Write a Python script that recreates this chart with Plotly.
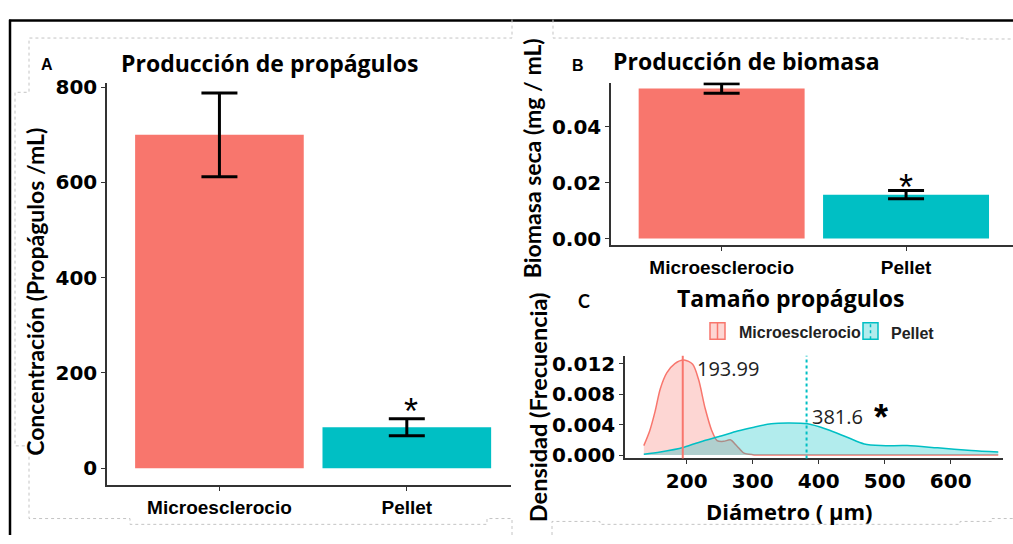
import plotly.graph_objects as go

W, H = 1013, 544

# ---- data -------------------------------------------------------------
categories = ["Microesclerocio", "Pellet"]
bar_colors = ["#F8766D", "#00BFC4"]

# A: propagule production (propagules / mL), mean and standard error
prop_mean = [700, 86]
prop_err = [88, 18]

# B: dry biomass (mg / mL), mean and standard error
bio_mean = [0.0537, 0.0157]
bio_err = [0.0017, 0.0015]

# C: propagule diameter density curves (µm, density)
micro_x = [135, 144, 152, 160, 170, 182, 196, 209, 218, 228, 238, 246, 256,
           266, 276, 286, 300, 320, 400, 500, 600, 672]
micro_y = [0.00124, 0.0032, 0.0057, 0.0087, 0.0108, 0.0120, 0.01247, 0.0119,
           0.0099, 0.0061, 0.0032, 0.0019, 0.0018, 0.0020, 0.0012, 0.0003,
           0.00005, 0.0, 0.0, 0.0, 0.0, 0.0]
pellet_x = [135, 160, 196, 226, 252, 277, 302, 328, 353, 383, 413, 444, 469,
            494, 534, 580, 631, 672]
pellet_y = [0.0001, 0.0004, 0.00104, 0.00188, 0.0025, 0.00315, 0.00366,
            0.0041, 0.0042, 0.0041, 0.00336, 0.0023, 0.00146, 0.00124,
            0.00124, 0.00095, 0.00061, 0.0004]
mean_diam = [193.99, 381.6]

# ---- helpers (pixels -> paper fractions) --------------------------------
def px(x):
    return x / W


def py(y):
    return 1 - y / H


AX = "#333333"
TICK_FONT = dict(family="DejaVu Sans", size=20, color="black", weight="bold")
CAT_FONT = dict(family="Liberation Sans", size=19, color="black", weight="bold")
TITLE_FONT = dict(family="Open Sans", size=23, color="black", weight="bold")

fig = go.Figure()

# A bars
fig.add_trace(go.Bar(
    x=categories, y=prop_mean, width=0.9, marker=dict(color=bar_colors, line=dict(width=0)),
    error_y=dict(type="data", array=prop_err, color="black", thickness=3, width=18),
    xaxis="x", yaxis="y", showlegend=False))

# B bars
fig.add_trace(go.Bar(
    x=categories, y=bio_mean, width=0.9, marker=dict(color=bar_colors, line=dict(width=0)),
    error_y=dict(type="data", array=bio_err, color="black", thickness=3, width=18),
    xaxis="x2", yaxis="y2", showlegend=False))

# C densities
fig.add_trace(go.Scatter(
    x=micro_x, y=micro_y, mode="lines", line=dict(color=bar_colors[0], width=1.5, shape="spline", smoothing=0.8),
    fill="tozeroy", fillcolor="rgba(248,118,109,0.3)", xaxis="x3", yaxis="y3", showlegend=False))
fig.add_trace(go.Scatter(
    x=pellet_x, y=pellet_y, mode="lines", line=dict(color=bar_colors[1], width=1.5, shape="spline", smoothing=0.8),
    fill="tozeroy", fillcolor="rgba(0,191,196,0.3)", xaxis="x3", yaxis="y3", showlegend=False))

shapes = []
# mean diameter reference lines
shapes.append(dict(type="line", xref="x3", yref="y3 domain", x0=mean_diam[0], x1=mean_diam[0],
                   y0=0, y1=1, line=dict(color=bar_colors[0], width=2)))
shapes.append(dict(type="line", xref="x3", yref="y3 domain", x0=mean_diam[1], x1=mean_diam[1],
                   y0=0, y1=1, line=dict(color=bar_colors[1], width=2, dash="dot")))

# legend keys for C
for x0, col, fillc, dash in [(710, bar_colors[0], "rgba(248,118,109,0.3)", "solid"),
                             (863, bar_colors[1], "rgba(0,191,196,0.3)", "dot")]:
    shapes.append(dict(type="rect", xref="paper", yref="paper", x0=px(x0), x1=px(x0 + 15),
                       y0=py(342), y1=py(325), fillcolor=fillc, line=dict(color=col, width=1.5)))
    shapes.append(dict(type="line", xref="paper", yref="paper", x0=px(x0 + 7.5), x1=px(x0 + 7.5),
                       y0=py(342), y1=py(325), line=dict(color=col, width=1.5, dash=dash)))

# outer black frame
shapes.append(dict(type="line", xref="paper", yref="paper", x0=px(9), x1=1, y0=py(13), y1=py(13),
                   line=dict(color="black", width=2.5)))
shapes.append(dict(type="line", xref="paper", yref="paper", x0=px(10), x1=px(10), y0=py(12), y1=0,
                   line=dict(color="black", width=2.5)))

# faint panel outlines
GRAY = "#c4c4c4"
outline = [
    [(512, 12), (512, 31), (29, 31), (29, 87), (15, 87), (15, 452), (29, 452), (29, 527),
     (130, 527), (130, 533), (487, 533), (487, 527), (512, 527), (512, 544)],
    [(553, 12), (553, 31), (966, 31), (966, 32), (1013, 32)],
    [(552, 544), (552, 530), (600, 530), (600, 533), (960, 533), (960, 530), (992, 530),
     (992, 527), (1013, 527)],
]
for pts in outline:
    path = "M " + " L ".join(f"{px(a):.5f},{py(b):.5f}" for a, b in pts)
    shapes.append(dict(type="path", xref="paper", yref="paper", path=path,
                       line=dict(color=GRAY, width=1, dash="dot")))

ann = []


def text(x, y, s, font, **kw):
    ann.append(dict(x=px(x), y=py(y), xref="paper", yref="paper", text=s, showarrow=False,
                    font=font, xanchor=kw.pop("xanchor", "center"), yanchor=kw.pop("yanchor", "middle"), **kw))


def lato(size):
    return dict(family="Lato", size=size, color="black", weight="bold")


PANEL_FONT = dict(family="Liberation Sans", size=16, color="black", weight="bold")
text(47, 58, "A", PANEL_FONT)
text(578, 59, "B", PANEL_FONT)
text(584, 302, "C", lato(18))

text(269, 57, "Producción de propágulos", TITLE_FONT)
text(746, 55, "Producción de biomasa", TITLE_FONT)
text(791, 299, "Tamaño propágulos", TITLE_FONT)

text(35, 293, "Concentración (Propágulos /mL)", lato(23), textangle=-90)
text(532, 155, "Biomasa seca (mg / mL)", lato(23), textangle=-90)
text(538, 412, "Densidad (Frecuencia)", lato(23.5), textangle=-90)
text(789, 519, "Diámetro ( µm)", dict(family="Open Sans", size=22, color="black", weight="bold"))

LEG_FONT = dict(family="Liberation Sans", size=16, color="#222", weight="bold")
text(737, 335, "Microesclerocio", LEG_FONT, xanchor="left")
text(889, 336, "Pellet", LEG_FONT, xanchor="left")

STAR = dict(family="Liberation Sans", size=36, color="black")
ann.append(dict(x=categories[1], y=140, xref="x", yref="y", text="*", showarrow=False,
                font=STAR, xshift=4, yshift=-10))
ann.append(dict(x=categories[1], y=0.0218, xref="x2", yref="y2", text="*", showarrow=False,
                font=STAR, yshift=-10))
ann.append(dict(x=495, y=0.0063, xref="x3", yref="y3", text="*", showarrow=False,
                font=dict(family="Liberation Sans", size=36, color="black", weight="bold"),
                yshift=-10))

VAL_FONT = dict(family="Open Sans", size=20, color="#222")
ann.append(dict(x=mean_diam[0], y=0.0114, xref="x3", yref="y3", text=f"{mean_diam[0]:.2f}",
                showarrow=False, font=VAL_FONT, xanchor="left", xshift=12))
ann.append(dict(x=mean_diam[1], y=0.00505, xref="x3", yref="y3", text=f"{mean_diam[1]}",
                showarrow=False, font=VAL_FONT, xanchor="left", xshift=3))


def axis_style(**kw):
    base = dict(showline=True, linecolor=AX, linewidth=1.5, ticks="outside", ticklen=4,
                tickcolor=AX, tickwidth=1, showgrid=False, zeroline=False, fixedrange=True)
    base.update(kw)
    return base


fig.update_layout(
    width=W, height=H, margin=dict(l=0, r=0, t=0, b=0),
    paper_bgcolor="white", plot_bgcolor="white", bargap=0.1,
    shapes=shapes, annotations=ann,
    xaxis=axis_style(domain=[px(107), px(511)], anchor="y", type="category",
                     range=[-0.6, 1.556], tickfont=CAT_FONT),
    yaxis=axis_style(domain=[py(492.7), py(77.7)], anchor="x", range=[-36, 808.3],
                     tickvals=[0, 200, 400, 600, 800], tickfont=TICK_FONT),
    xaxis2=axis_style(domain=[px(611), 1.0], anchor="y2", type="category",
                      range=[-0.6, 1.58], tickfont=CAT_FONT),
    yaxis2=axis_style(domain=[py(245), py(77)], anchor="x2", range=[-0.00243, 0.0558],
                      tickvals=[0, 0.02, 0.04], tickformat=".2f", tickfont=TICK_FONT),
    xaxis3=axis_style(domain=[px(625), px(1003)], anchor="y3", range=[106.5, 679.2],
                      tickvals=[200, 300, 400, 500, 600], tickfont=TICK_FONT),
    yaxis3=axis_style(domain=[py(465), py(359)], anchor="x3", range=[-0.000444, 0.01302],
                      tickvals=[0, 0.004, 0.008, 0.012], tickformat=".3f", tickfont=TICK_FONT),
)

fig.write_html("out.html")
